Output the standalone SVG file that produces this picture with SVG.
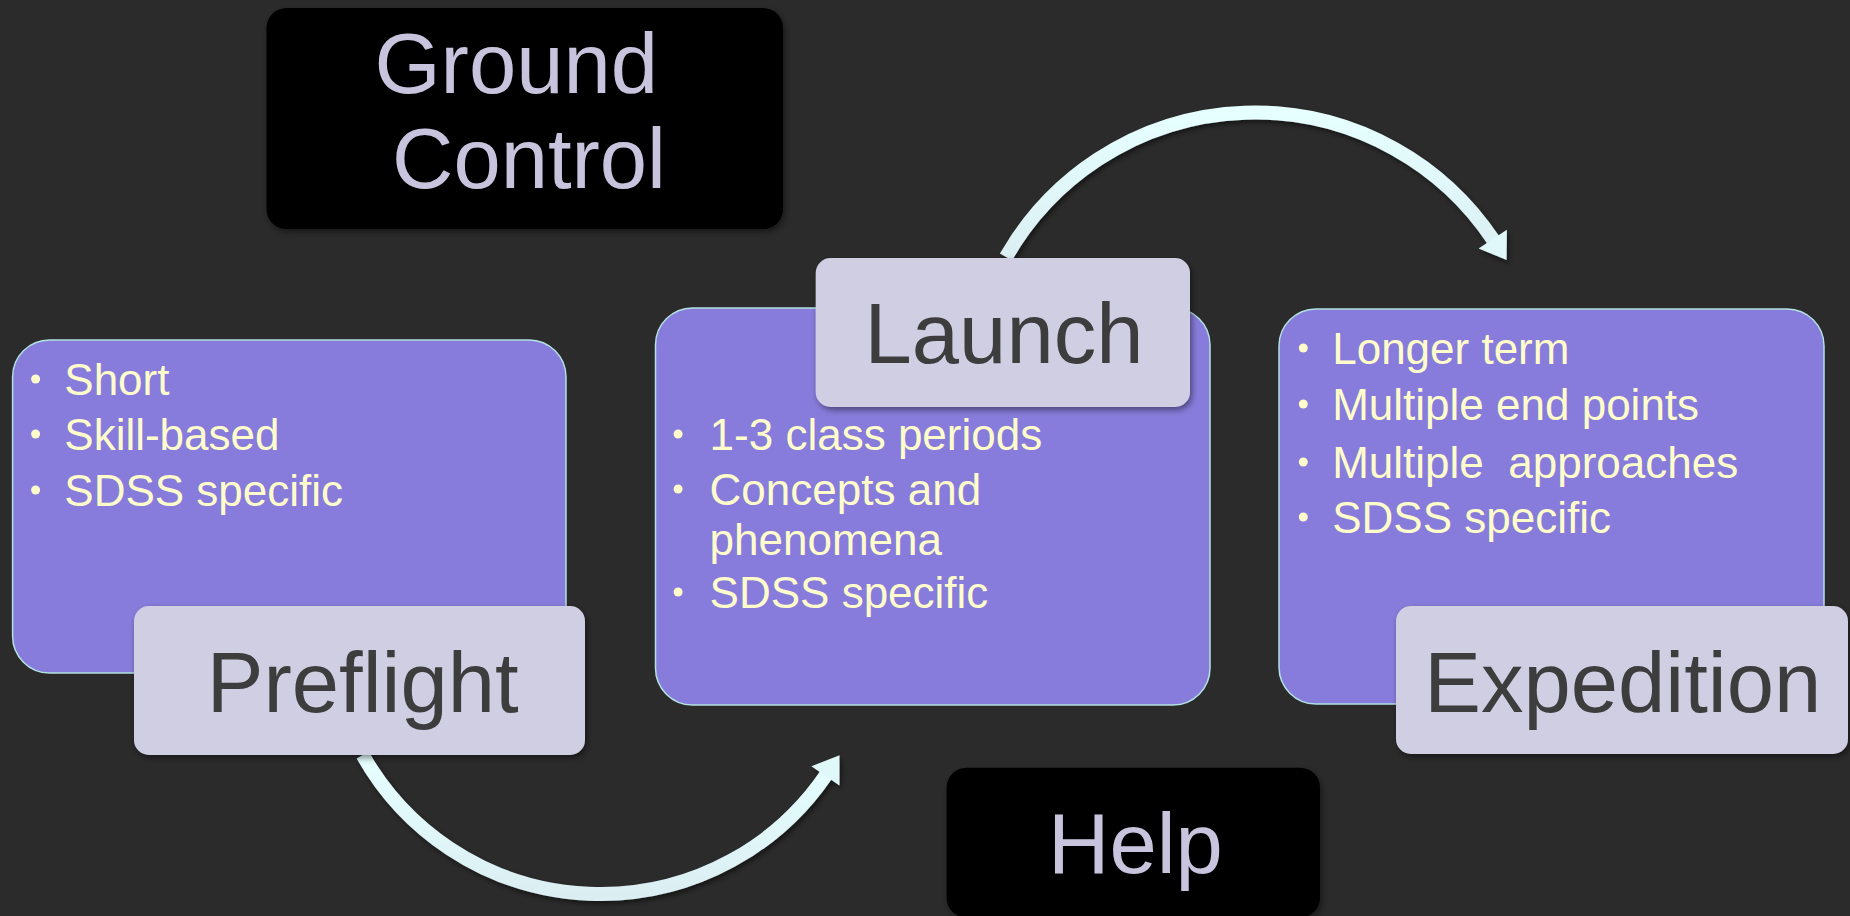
<svg xmlns="http://www.w3.org/2000/svg" width="1850" height="916" viewBox="0 0 1850 916">
  <defs>
    <style>
      .card { fill: #877cdb; stroke: #b3e2e2; stroke-width: 1.5; }
      .label { fill: #d0cee3; filter: url(#shadow); }
      .dark { fill: #000000; filter: url(#shadow); }
      .big { font-family: "Liberation Sans", Arial, Helvetica, sans-serif; font-size: 85px; }
      .labtxt { fill: #3d3d3d; text-anchor: middle; }
      .darktxt { fill: #c8c4de; }
      .bul { font-family: "Liberation Sans", Arial, Helvetica, sans-serif; font-size: 44px; fill: #fffccc; white-space: pre; }
      .dot { fill: #fffccc; }
      .arrow { fill: none; stroke: url(#arrowGrad); stroke-width: 14; marker-end: url(#head); filter: url(#ashadow); }
    </style>
    <linearGradient id="arrowGrad" x1="0" y1="0" x2="0" y2="1">
      <stop offset="0" stop-color="#e6ffff"/>
      <stop offset="1" stop-color="#dbeff3"/>
    </linearGradient>
    <marker id="head" markerUnits="userSpaceOnUse" markerWidth="30" markerHeight="40" refX="1" refY="17" orient="auto" overflow="visible">
      <path d="M0,0 L25,17 L0,34 Z" fill="#e0f8fa"/>
    </marker>
    <filter id="shadow" x="-10%" y="-10%" width="125%" height="130%">
      <feDropShadow dx="2" dy="3" stdDeviation="3" flood-color="#000" flood-opacity="0.45"/>
    </filter>
    <filter id="ashadow" x="-20%" y="-20%" width="140%" height="140%">
      <feDropShadow dx="2" dy="3" stdDeviation="2.5" flood-color="#000" flood-opacity="0.5"/>
    </filter>
  </defs>

  <rect x="0" y="0" width="1850" height="916" fill="#2b2b2b"/>

  <g id="connectors">
    <path class="arrow" d="M 362.7 755 A 273 273 0 0 0 826 775"/>
    <path class="arrow" d="M 1006 257 A 286.6 286.6 0 0 1 1493.3 240"/>
  </g>

  <g id="ground-control">
    <rect class="dark" x="266.5" y="8" width="516.5" height="221" rx="20"/>
    <text class="big darktxt" x="374.5" y="93">Ground</text>
    <text class="big darktxt" x="392" y="188">Control</text>
  </g>

  <g id="help">
    <rect class="dark" x="946.6" y="767.7" width="373.4" height="150" rx="20"/>
    <text class="big darktxt" x="1135.5" y="873" text-anchor="middle">Help</text>
  </g>

  <g id="preflight">
    <rect class="card" x="12.6" y="340" width="553.4" height="333" rx="37"/>
    <circle class="dot" cx="35.6" cy="379" r="4.5"/>
    <circle class="dot" cx="35.6" cy="434" r="4.5"/>
    <circle class="dot" cx="35.6" cy="490" r="4.5"/>
    <text class="bul" x="64.3" y="395">Short</text>
    <text class="bul" x="64.3" y="450">Skill-based</text>
    <text class="bul" x="64.3" y="506">SDSS specific</text>
    <rect class="label" x="134" y="606" width="451" height="149" rx="15"/>
    <text class="big labtxt" x="362.7" y="712">Preflight</text>
  </g>

  <g id="launch">
    <rect class="card" x="655.5" y="308" width="554.5" height="397" rx="37"/>
    <circle class="dot" cx="678.1" cy="434" r="4.5"/>
    <circle class="dot" cx="678.1" cy="489" r="4.5"/>
    <circle class="dot" cx="678.1" cy="592" r="4.5"/>
    <text class="bul" x="709.6" y="450">1-3 class periods</text>
    <text class="bul" x="709.6" y="505">Concepts and</text>
    <text class="bul" x="709.6" y="555">phenomena</text>
    <text class="bul" x="709.6" y="608">SDSS specific</text>
    <rect class="label" x="815.7" y="258" width="374.3" height="149" rx="15"/>
    <text class="big labtxt" x="1004" y="363">Launch</text>
  </g>

  <g id="expedition">
    <rect class="card" x="1279" y="309" width="545" height="395" rx="37"/>
    <circle class="dot" cx="1303.3" cy="348" r="4.5"/>
    <circle class="dot" cx="1303.3" cy="404" r="4.5"/>
    <circle class="dot" cx="1303.3" cy="462" r="4.5"/>
    <circle class="dot" cx="1303.3" cy="517" r="4.5"/>
    <text class="bul" x="1332.2" y="364">Longer term</text>
    <text class="bul" x="1332.2" y="420">Multiple end points</text>
    <text class="bul" x="1332.2" y="478" xml:space="preserve">Multiple  approaches</text>
    <text class="bul" x="1332.2" y="533">SDSS specific</text>
    <rect class="label" x="1396" y="606" width="452" height="148" rx="15"/>
    <text class="big labtxt" x="1622.8" y="712">Expedition</text>
  </g>
</svg>
